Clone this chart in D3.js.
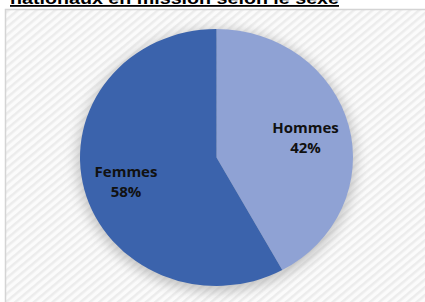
<!DOCTYPE html>
<html>
<head>
<meta charset="utf-8">
<script src="https://cdn.jsdelivr.net/npm/d3@7"></script>
<style>
  body { margin: 0; background: #fff; }
  svg { display: block; }
</style>
</head>
<body>
<svg id="chart" width="425" height="302"></svg>
<script>
// data
var categories = ["Hommes", "Femmes"];
var values = [42, 58];
var colors = ["#8FA2D4", "#3B63AC"];
var titleText = "nationaux en mission selon le sexe";

var width = 425, height = 302;
var svg = d3.select("#chart");

var defs = svg.append("defs");

// hatched background
var pat = defs.append("pattern")
    .attr("id", "hatch")
    .attr("patternUnits", "userSpaceOnUse")
    .attr("width", 6).attr("height", 6)
    .attr("patternTransform", "rotate(-40)");
pat.append("rect").attr("width", 6).attr("height", 6).attr("fill", "#fbfbfb");
pat.append("rect").attr("width", 6).attr("height", 2.5).attr("fill", "#ececec");

var shadow = defs.append("filter").attr("id", "shadow")
    .attr("x", "-20%").attr("y", "-20%").attr("width", "140%").attr("height", "140%");
shadow.append("feGaussianBlur").attr("stdDeviation", 6);

// chart frame
svg.append("rect")
   .attr("x", 5.5).attr("y", 9.5)
   .attr("width", 440).attr("height", 300)
   .attr("fill", "url(#hatch)")
   .attr("stroke", "#d4d4d4")
   .attr("stroke-width", 1.5);

// title (only bottom of it is visible)
var title = svg.append("text")
   .attr("x", 10)
   .attr("y", 4)
   .attr("font-family", "Liberation Sans, Arial, sans-serif")
   .attr("font-weight", "bold")
   .attr("font-size", 17)
   .attr("fill", "#000")
   .text(titleText);
var tw = title.node().getComputedTextLength();
title.attr("textLength", 329).attr("lengthAdjust", "spacingAndGlyphs");
svg.append("rect")
   .attr("x", 10).attr("y", 5)
   .attr("width", 329).attr("height", 1.8)
   .attr("fill", "#000");

// pie
var cx = 216.5, cy = 157.5, rx = 136.5, ry = 128.5;
var sx = rx / ry;

var pie = d3.pie().sort(null).value(function(d) { return d; });
var arcs = pie(values);
var arc = d3.arc().innerRadius(0).outerRadius(ry);

var g = svg.append("g")
   .attr("transform", "translate(" + cx + "," + cy + ") scale(" + sx + ",1)");

g.append("circle")
 .attr("cx", 0).attr("cy", 3).attr("r", ry + 3)
 .attr("fill", "#9a9a9a")
 .attr("opacity", 0.55)
 .attr("filter", "url(#shadow)");

g.selectAll("path.slice")
 .data(arcs)
 .enter().append("path")
 .attr("class", "slice")
 .attr("d", arc)
 .attr("fill", function(d, i) { return colors[i]; });

// labels
var labelPos = [[305.5, 132.7], [126, 177]];
arcs.forEach(function(d, i) {
  var t = svg.append("text")
     .attr("x", labelPos[i][0])
     .attr("y", labelPos[i][1])
     .attr("text-anchor", "middle")
     .attr("font-family", "Open Sans, sans-serif")
     .attr("font-weight", "bold")
     .attr("font-size", 15)
     .attr("fill", "#111");
  t.append("tspan").attr("x", labelPos[i][0]).text(categories[i]);
  t.append("tspan").attr("x", labelPos[i][0]).attr("dy", 20.3).text(values[i] + "%");
});
</script>
</body>
</html>
